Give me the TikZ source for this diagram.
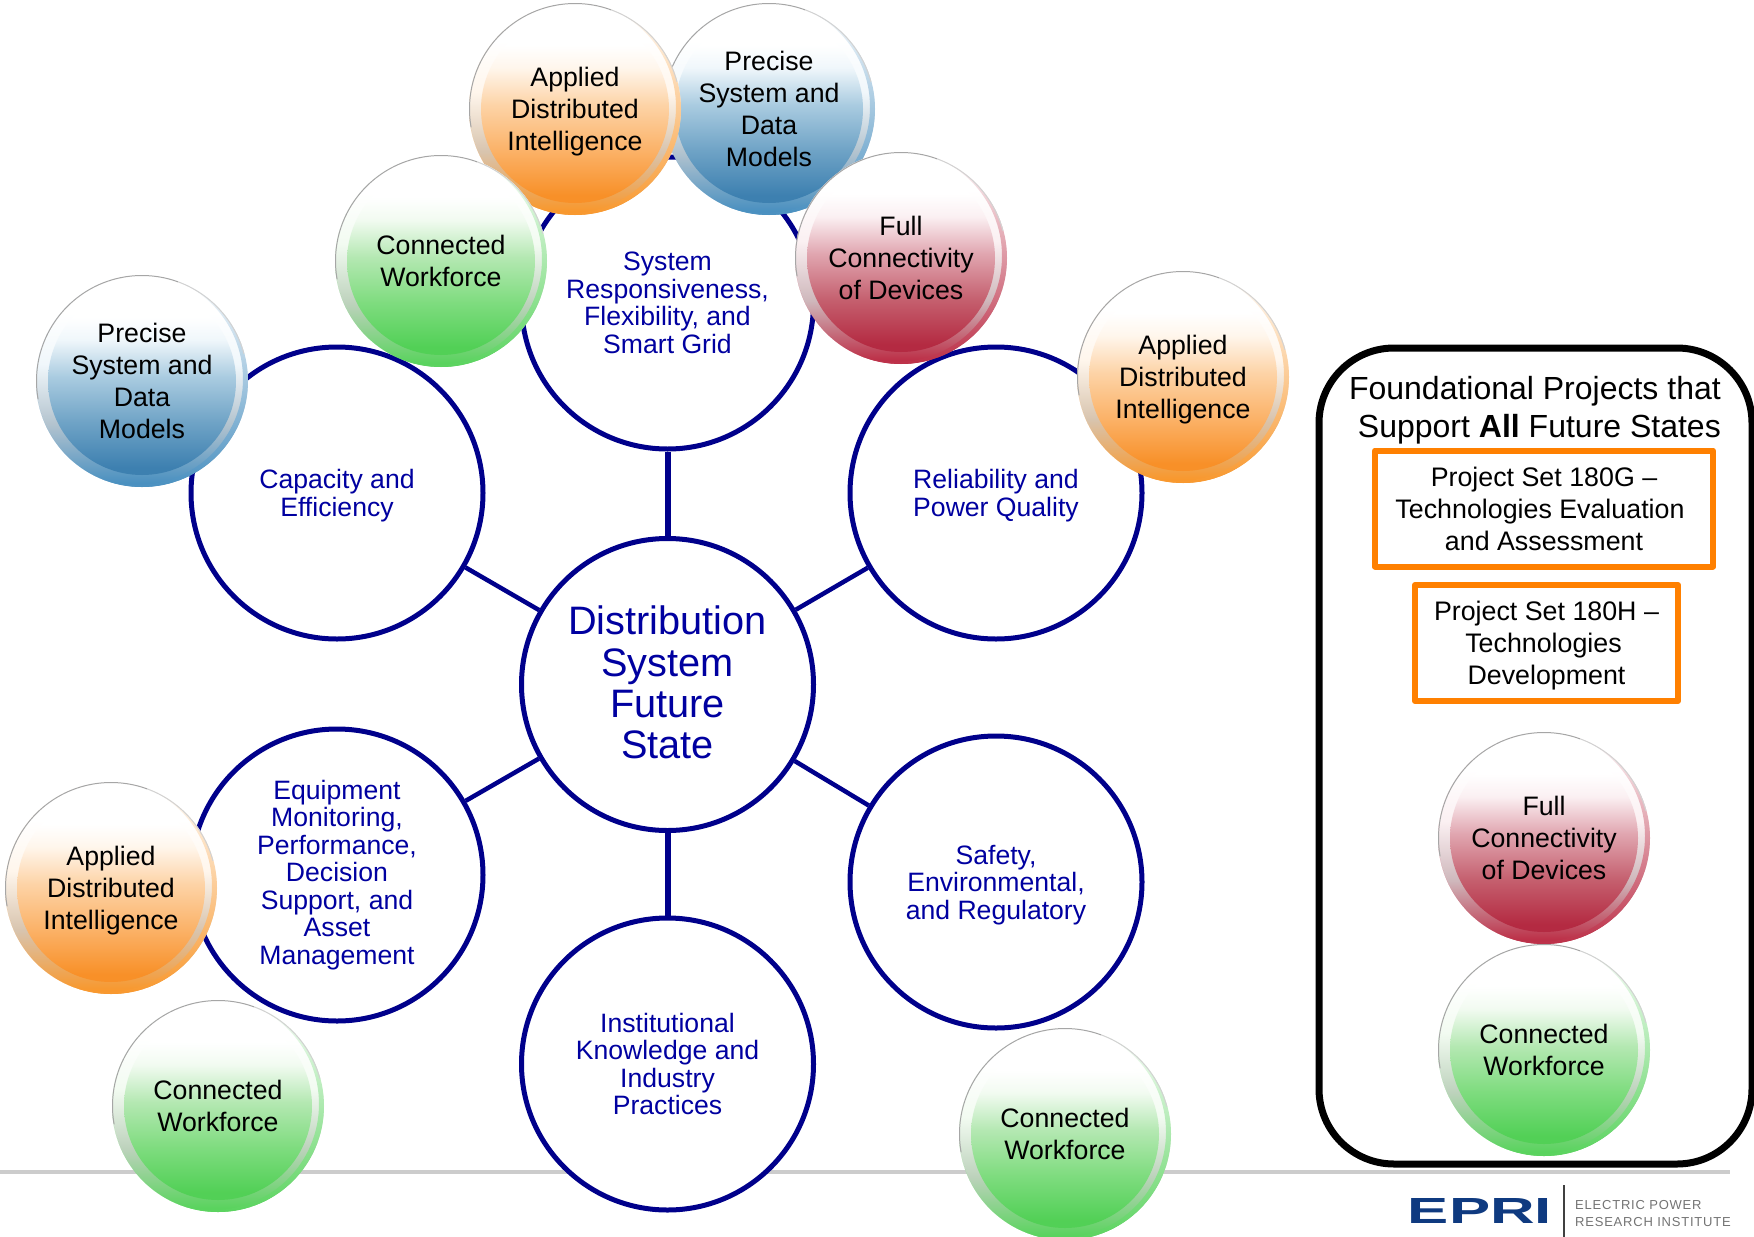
\documentclass[tikz,border=0pt]{standalone}
\usepackage{fontspec}
\setmainfont{Liberation Sans}
\newfontfamily\logofont[LetterSpace=6]{Liberation Sans}
% ball colours
\definecolor{navyline}{HTML}{00008B}
\definecolor{navytext}{HTML}{0000A0}
\definecolor{boxorange}{HTML}{FF8000}
\definecolor{logoblue}{HTML}{0F3A80}
\definecolor{rulegray}{HTML}{CCCCCC}
\definecolor{bluebot}{HTML}{3D80B0}\definecolor{bluelow}{HTML}{6FA3C6}\definecolor{bluemid}{HTML}{A9CBE0}
\definecolor{bluetop}{HTML}{F0F7FB}\definecolor{bluerim}{HTML}{4A90C0}\definecolor{blueside}{HTML}{B4C4CF}\definecolor{blueglow}{HTML}{C5ECFC}
\definecolor{orangebot}{HTML}{F89028}\definecolor{orangelow}{HTML}{FBB268}\definecolor{orangemid}{HTML}{FDD3A6}
\definecolor{orangetop}{HTML}{FFF6EC}\definecolor{orangerim}{HTML}{F8982E}\definecolor{orangeside}{HTML}{D8C4AE}\definecolor{orangeglow}{HTML}{FFEFC8}
\definecolor{greenbot}{HTML}{52D056}\definecolor{greenlow}{HTML}{7FDC7F}\definecolor{greenmid}{HTML}{B4E8B2}
\definecolor{greentop}{HTML}{F2FBF1}\definecolor{greenrim}{HTML}{5AD35E}\definecolor{greenside}{HTML}{BDD2BC}\definecolor{greenglow}{HTML}{C8FFC0}
\definecolor{redbot}{HTML}{B42A42}\definecolor{redlow}{HTML}{C5606F}\definecolor{redmid}{HTML}{E0A5AF}
\definecolor{redtop}{HTML}{FBF0F2}\definecolor{redrim}{HTML}{BC3048}\definecolor{redside}{HTML}{CFB8BC}\definecolor{redglow}{HTML}{FAC0CA}
\newcommand{\ballshades}[1]{%
  \pgfdeclareverticalshading{#1core}{100bp}{color(0bp)=(#1bot); color(27bp)=(#1bot); color(39bp)=(#1low); color(51bp)=(#1mid); color(61bp)=(#1top); color(67bp)=(white); color(100bp)=(white)}%
  \pgfdeclareverticalshading{#1rim}{100bp}{color(0bp)=(#1rim); color(26bp)=(#1rim); color(40bp)=(#1side); color(54bp)=(#1top); color(66bp)=(white); color(100bp)=(white)}}
\ballshades{blue}\ballshades{orange}\ballshades{green}\ballshades{red}
\tikzset{
  statecircle/.style={circle,draw=navyline,fill=white,line width=5pt,minimum size=292pt,inner sep=0pt,
    align=center,text=navytext,font=\fontsize{26.6}{27.5}\selectfont},
  spoke/.style={draw=navyline,line width=4.5pt},
  ball/.style={circle,minimum size=212pt,inner sep=0pt,align=center,text=black,
    font=\fontsize{26.7}{32}\selectfont,shade,shading=#1rim,
    path picture={
      \coordinate (bc) at (path picture bounding box.center);
      \shade[even odd rule,top color=white,middle color=#1glow,bottom color=#1rim] (bc) circle (106pt) ([shift={(-5pt,2pt)}]bc) circle (106pt);
      \shade[shading=#1core] (bc) circle (94pt);
      \draw[gray!70,line width=2pt] (bc) ++(190:106pt) arc[start angle=190,end angle=70,radius=106pt];
      \draw[gray!35,line width=2pt] (bc) ++(70:106pt) arc[start angle=70,end angle=15,radius=106pt];
    }},
  projbox/.style={draw=boxorange,line width=6pt,line join=round,align=center,inner sep=0pt,
    font=\fontsize{26.8}{32}\selectfont}
}
\begin{document}
\begin{tikzpicture}[x=1pt,y=-1pt]
  \useasboundingbox (0,0) rectangle (1754,1237);
  % footer
  \coordinate (ruleL) at (0,1172);
  \coordinate (ruleR) at (1730,1172);
  \draw[rulegray,line width=3.5pt] (ruleL) -- (ruleR);
  \node (eprilogo) at (1480,1211) {\resizebox{144pt}{25pt}{\textcolor{logoblue}{\bfseries EPRI}}};
  \coordinate (sepT) at (1564,1185);
  \coordinate (sepB) at (1564,1237);
  \draw[black!75,line width=1.5pt] (sepT) -- (sepB);
  \node[anchor=base west,inner sep=0pt,text=black!55,font=\logofont\fontsize{13}{16}\selectfont] (eprione) at (1575,1209) {ELECTRIC POWER};
  \node[anchor=base west,inner sep=0pt,text=black!55,font=\logofont\fontsize{13}{16}\selectfont] (epritwo) at (1575,1226) {RESEARCH INSTITUTE};

  % foundational panel
  \node[draw=black,line width=7pt,rounded corners=75pt,minimum width=433pt,minimum height=816pt] (panel) at (1535.5,756) {};
  \node[anchor=east,align=right,inner sep=0pt,font=\fontsize{32}{38}\selectfont] (paneltitle) at (1721,410)
    {Foundational Projects that\\Support \textbf{All} Future States};
  \node[projbox,minimum width=338pt,minimum height=116pt] (setG) at (1544,508.5)
    {Project Set 180G --\\Technologies Evaluation\kern8pt\\and Assessment};
  \node[projbox,minimum width=263pt,minimum height=116pt,text depth=0pt] (setH) at (1546.5,643)
    {Project Set 180H --\\Technologies\kern6pt\\Development};

  % future state circles
  \node[statecircle,font=\fontsize{39.7}{41.4}\selectfont,text depth=4pt] (hub) at (667.5,684.5) {Distribution\\System\\Future\\State};
  \node[statecircle] (grid) at (667.5,303) {System\\Responsiveness,\\Flexibility, and\\Smart Grid};
  \node[statecircle,text depth=0pt] (capacity) at (337,493) {Capacity and\\Efficiency};
  \node[statecircle,text depth=0pt] (reliability) at (996,493) {Reliability and\\Power Quality};
  \node[statecircle] (equipment) at (337,875) {Equipment\\Monitoring,\\Performance,\\Decision\\Support, and\\Asset\\Management};
  \node[statecircle,text depth=0pt] (safety) at (996,882) {Safety,\\Environmental,\\and Regulatory};
  \node[statecircle] (knowledge) at (667.5,1064) {Institutional\\Knowledge and\\Industry\\Practices};
  \begin{scope}
    \draw[spoke,line width=6pt] (hub) to (grid);
    \draw[spoke,line width=6pt] (hub) to (knowledge);
    \draw[spoke] (hub) to (capacity);
    \draw[spoke] (hub) to (reliability);
    \draw[spoke] (hub) to (equipment);
    \draw[spoke] (hub) to (safety);
  \end{scope}

  % balls
  \node[ball=blue] (preciseA) at (769,109) {Precise\\System and\\Data\\Models};
  \node[ball=orange,text depth=0pt] (appliedA) at (575,109) {Applied\\Distributed\\Intelligence};
  \node[ball=green] (workforceA) at (441,261) {Connected\\Workforce};
  \node[ball=red] (devicesA) at (901,258) {Full\\Connectivity\\of Devices};
  \node[ball=blue] (preciseB) at (142,381) {Precise\\System and\\Data\\Models};
  \node[ball=orange,text depth=0pt] (appliedB) at (1183,377) {Applied\\Distributed\\Intelligence};
  \node[ball=orange,text depth=0pt] (appliedC) at (111,888) {Applied\\Distributed\\Intelligence};
  \node[ball=green] (workforceB) at (218,1106) {Connected\\Workforce};
  \node[ball=green] (workforceC) at (1065,1134) {Connected\\Workforce};
  \node[ball=red] (devicesB) at (1544,838) {Full\\Connectivity\\of Devices};
  \node[ball=green] (workforceD) at (1544,1050) {Connected\\Workforce};
\end{tikzpicture}
\end{document}
